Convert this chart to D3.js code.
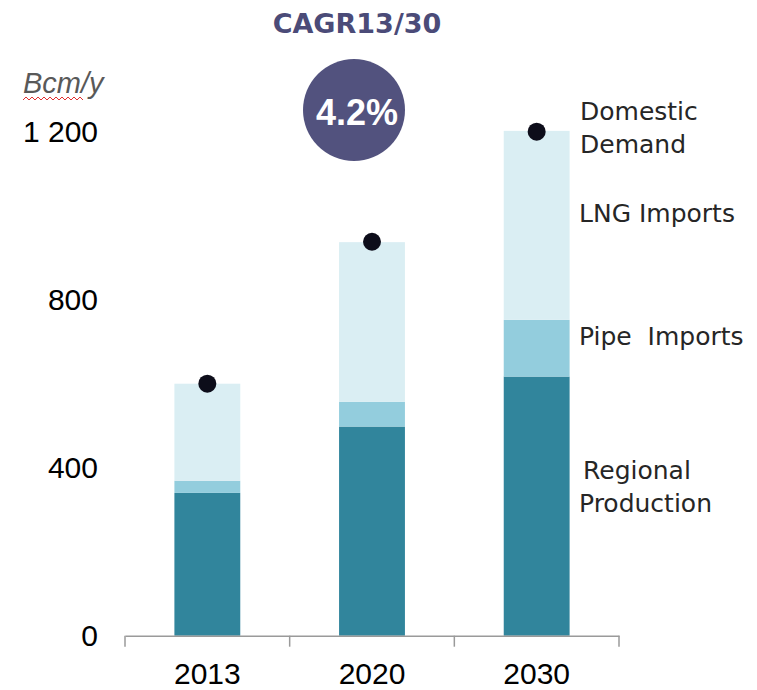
<!DOCTYPE html>
<html>
<head>
<meta charset="utf-8">
<script src="https://cdn.jsdelivr.net/npm/d3@7"></script>
<style>
  body { margin: 0; background: #fff; }
  svg { display: block; }
</style>
</head>
<body>
<script>
// data
const years = ["2013", "2020", "2030"];
const regional = [340, 498, 617];
const pipe = [29, 59, 135];
const lng = [231, 380, 450];
const demand = [600, 938, 1200];
const yTicks = [0, 400, 800, 1200];
const seriesNames = ["Regional Production", "Pipe Imports", "LNG Imports"];
const colors = ["#31859c", "#93cddd", "#daeef3"];

const W = 757, H = 690;

const svg = d3.select("body").append("svg")
    .attr("width", W)
    .attr("height", H);

const x = d3.scaleBand()
    .domain(years)
    .range([125, 619])
    .padding(0);

const y = d3.scaleLinear()
    .domain([0, 1200])
    .range([635.7, 131.7]);

const barW = x.bandwidth() * 0.4;

const rows = years.map((yr, i) => ({
  year: yr, "Regional Production": regional[i], "Pipe Imports": pipe[i], "LNG Imports": lng[i]
}));
const stacked = d3.stack().keys(seriesNames)(rows);

svg.append("g").selectAll("g")
    .data(stacked)
  .enter().append("g")
    .attr("fill", (d, i) => colors[i])
  .selectAll("rect")
    .data(d => d)
  .enter().append("rect")
    .attr("x", d => x(d.data.year) + (x.bandwidth() - barW) / 2)
    .attr("width", barW)
    .attr("y", d => y(d[1]))
    .attr("height", d => y(d[0]) - y(d[1]));

// domestic demand dots
svg.append("g").selectAll("circle")
    .data(years)
  .enter().append("circle")
    .attr("cx", d => x(d) + x.bandwidth() / 2)
    .attr("cy", (d, i) => y(demand[i]))
    .attr("r", 9)
    .attr("fill", "#0d0d1a");

// x axis
const xAxis = svg.append("g")
    .attr("transform", `translate(0,${y(0)})`)
    .call(d3.axisBottom(x).tickSize(0).tickSizeOuter(0));
xAxis.select(".domain").attr("stroke", "#9a9a9a").attr("stroke-width", 1.5);
xAxis.selectAll("text")
    .attr("dy", null)
    .attr("y", 48)
    .attr("fill", "#000")
    .style("font-family", "Liberation Sans, Arial, sans-serif")
    .style("font-size", "30px");
// boundary ticks between categories
const bounds = years.map(d => x(d)).concat([x(years[years.length - 1]) + x.bandwidth()]);
xAxis.selectAll("line.sep")
    .data(bounds)
  .enter().append("line")
    .attr("class", "sep")
    .attr("x1", d => d).attr("x2", d => d)
    .attr("y1", 0).attr("y2", 11)
    .attr("stroke", "#9a9a9a")
    .attr("stroke-width", 1.5);

// y axis labels (no line)
const fmt = d3.formatLocale({decimal: ".", thousands: " ", grouping: [3], currency: ["", ""]}).format(",");
const yAxis = svg.append("g")
    .attr("transform", "translate(98,0)")
    .call(d3.axisLeft(y).tickValues(yTicks).tickFormat(fmt).tickSize(0).tickPadding(0));
yAxis.select(".domain").remove();
yAxis.selectAll("text")
    .attr("fill", "#000")
    .style("font-family", "Liberation Sans, Arial, sans-serif")
    .style("font-size", "30px");

// unit label
svg.append("text")
    .attr("x", 23).attr("y", 93)
    .attr("fill", "#595959")
    .style("font-family", "Liberation Sans, Arial, sans-serif")
    .style("font-style", "italic")
    .style("font-size", "29px")
    .text("Bcm/y");
const squig = [];
for (let i = 0; i <= 20; i++) squig.push([23 + i * 3, i % 2 ? 97 : 100]);
svg.append("path")
    .attr("d", d3.line()(squig))
    .attr("fill", "none")
    .attr("stroke", "#e03030")
    .attr("stroke-width", 1);

// CAGR title + badge
svg.append("text")
    .attr("x", 357).attr("y", 33)
    .attr("text-anchor", "middle")
    .attr("fill", "#4b4b78")
    .style("font-family", "DejaVu Sans, sans-serif")
    .style("font-weight", "bold")
    .style("font-size", "27px")
    .text("CAGR13/30");
svg.append("circle")
    .attr("cx", 354).attr("cy", 110).attr("r", 51)
    .attr("fill", "#52527e");
svg.append("text")
    .attr("x", 357).attr("y", 125)
    .attr("text-anchor", "middle")
    .attr("fill", "#fff")
    .style("font-family", "Liberation Sans, Arial, sans-serif")
    .style("font-weight", "bold")
    .style("font-size", "36px")
    .text("4.2%");

// right side labels
const labelFont = "DejaVu Sans, sans-serif";
const labels = [
  {t: "Domestic", x: 580, y: 120},
  {t: "Demand", x: 580, y: 153},
  {t: "LNG Imports", x: 579, y: 222},
  {t: "Pipe  Imports", x: 579, y: 345},
  {t: "Regional", x: 583, y: 479},
  {t: "Production", x: 579, y: 512}
];
svg.append("g").selectAll("text")
    .data(labels)
  .enter().append("text")
    .attr("x", d => d.x)
    .attr("y", d => d.y)
    .attr("fill", "#262626")
    .style("font-family", labelFont)
    .style("font-size", "25px")
    .style("white-space", "pre")
    .attr("xml:space", "preserve")
    .text(d => d.t);
</script>
</body>
</html>
